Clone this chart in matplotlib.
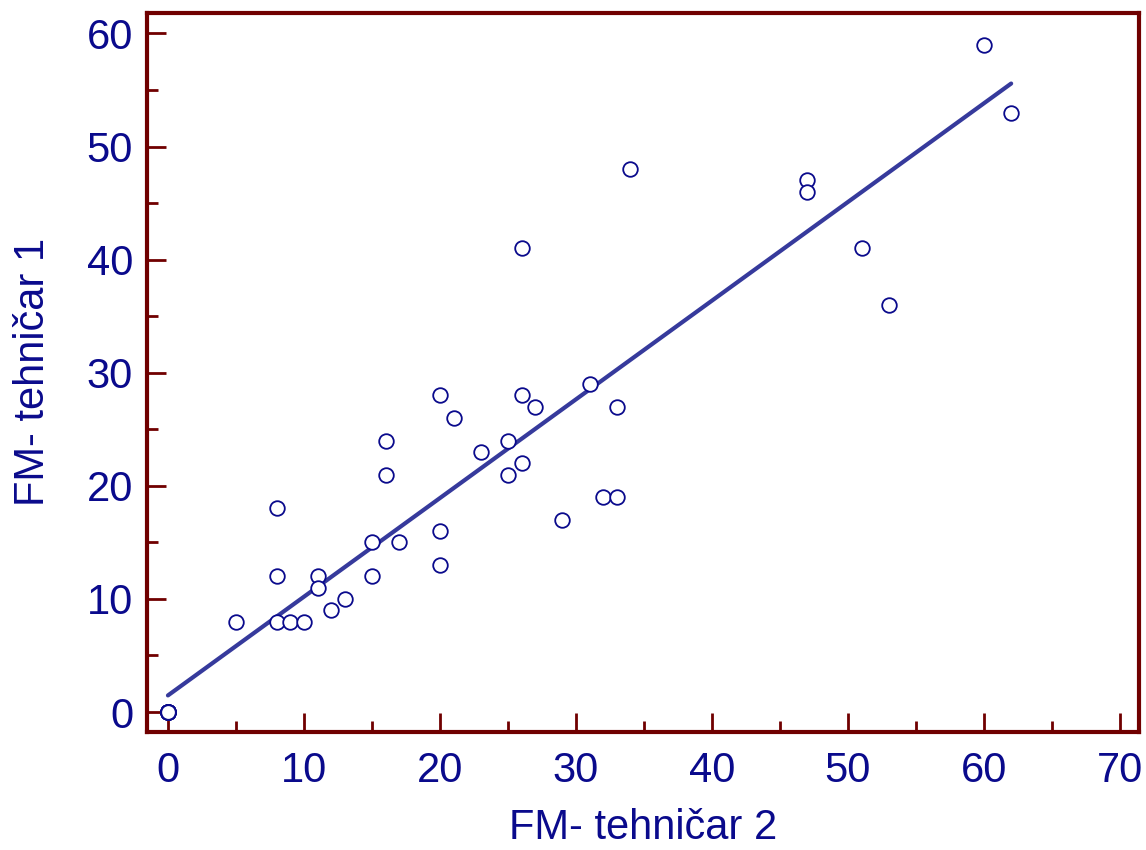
import numpy as np
import matplotlib
matplotlib.use("Agg")
import matplotlib.pyplot as plt
from matplotlib.ticker import MultipleLocator

plt.rcParams['font.family'] = ['Liberation Sans', 'DejaVu Sans']

# many observations coincide at the origin (0, 0)
tech2 = [0] * 14 + [5, 8, 8, 8, 9, 10, 11, 11, 12, 13, 15, 15, 16, 16, 17, 20, 20, 20, 21,
         23, 25, 25, 26, 26, 26, 27, 29, 31, 32, 33, 33, 34, 47, 47, 51, 53, 60, 62]
tech1 = [0] * 14 + [8, 18, 12, 8, 8, 8, 12, 11, 9, 10, 15, 12, 24, 21, 15, 28, 16, 13, 26,
         23, 24, 21, 41, 28, 22, 27, 17, 29, 19, 19, 27, 48, 47, 46, 41, 36, 59, 53]
xlabel = "FM- tehničar 2"
ylabel = "FM- tehničar 1"

navy = '#0a0a8c'
frame = '#700000'

fig = plt.figure(figsize=(11.46, 8.5), dpi=100)
ax = fig.add_axes([147/1146, 1-731.5/850, (1139-147)/1146, (731.5-12.5)/850])

x = np.array(tech2, float)
y = np.array(tech1, float)
b, a = np.polyfit(x, y, 1)
xs = np.array([x.min(), x.max()])
ax.plot(xs, a + b*xs, color='#363a9c', lw=3.0, solid_capstyle='round', zorder=2)
ax.plot(x, y, 'o', ms=10.5, mfc='white', mec=navy, mew=1.3, zorder=3, clip_on=False)

ax.set_xlim(-1.54, 71.4)
ax.set_ylim(-1.72, 61.85)
ax.xaxis.set_major_locator(MultipleLocator(10))
ax.xaxis.set_minor_locator(MultipleLocator(5))
ax.yaxis.set_major_locator(MultipleLocator(10))
ax.yaxis.set_minor_locator(MultipleLocator(5))

for s in ax.spines.values():
    s.set_color(frame)
    s.set_linewidth(3.0)

ax.tick_params(which='both', direction='in', colors=frame, labelcolor=navy,
               top=False, right=False)
ax.tick_params(which='major', length=14, width=2.0, labelsize=30)
ax.tick_params(which='minor', length=8, width=2.0)
ax.tick_params(axis='x', which='major', pad=14)
ax.tick_params(axis='y', which='major', pad=10)

ax.set_xlabel(xlabel, color=navy, fontsize=30, labelpad=12)
ax.set_ylabel(ylabel, color=navy, fontsize=30, labelpad=24)

fig.savefig('out.png', dpi=100)
